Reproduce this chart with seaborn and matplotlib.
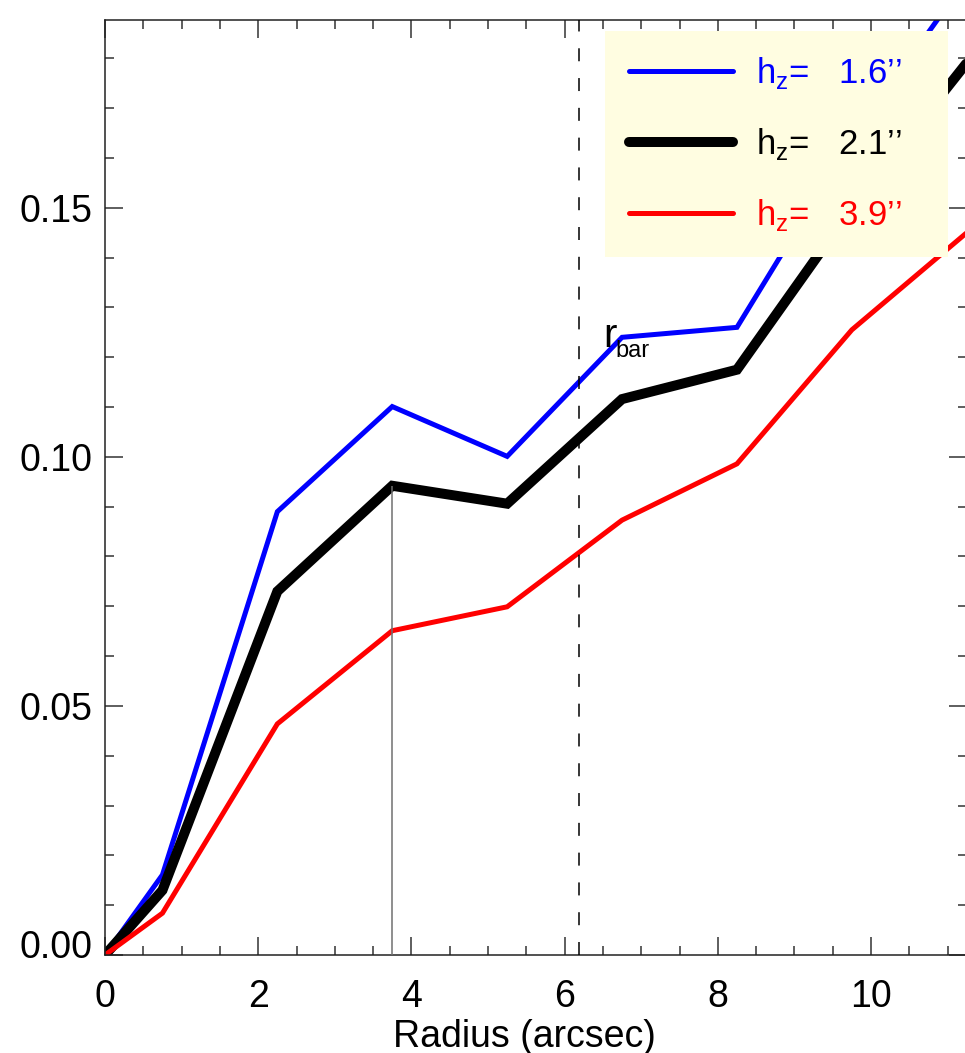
import matplotlib
matplotlib.use("Agg")
from matplotlib import pyplot as plt
from matplotlib.ticker import MultipleLocator, FormatStrFormatter
from matplotlib.transforms import ScaledTranslation
import seaborn as sns

# radial bins (arcsec) and the three scale-height curves
radius = [0.0, 0.75, 2.25, 3.75, 5.25, 6.75, 8.25, 9.75, 11.25]
hz_16 = [0.0, 0.0161, 0.0890, 0.1101, 0.1001, 0.1240, 0.1260, 0.1637, 0.1960]
hz_21 = [0.0, 0.0130, 0.0730, 0.0942, 0.0906, 0.1116, 0.1175, 0.1500, 0.1791]
hz_39 = [0.0, 0.0084, 0.0464, 0.0651, 0.0699, 0.0873, 0.0986, 0.1255, 0.1450]
labels = ["1.6", "2.1", "3.9"]
r_bar = 6.19
marker_r = 3.75

sns.set_style("ticks")
plt.rcParams["font.family"] = ["Liberation Sans", "DejaVu Sans"]
plt.rcParams["mathtext.fontset"] = "custom"
plt.rcParams["mathtext.rm"] = "Liberation Sans"
for key in ["text.color", "axes.labelcolor", "xtick.labelcolor", "ytick.labelcolor"]:
    plt.rcParams[key] = "black"

fig = plt.figure(figsize=(9.65, 10.53), dpi=100)
ax = fig.add_axes([105 / 965, 98 / 1053, 861.75 / 965, 935 / 1053])

series = [(hz_16, "blue", 3.6), (hz_21, "black", 7.2), (hz_39, "red", 3.6)]
for (vals, col, lw), lab in zip(series, labels):
    sns.lineplot(x=radius, y=vals, color=col, linewidth=lw, ax=ax,
                 label="h$_\\mathregular{z}$=   " + lab + "\u2019\u2019   ")
for ln in ax.get_lines():
    ln.set_solid_joinstyle("miter")

# marker lines
ax.vlines(marker_r, 0, hz_21[radius.index(marker_r)], color="#707070", lw=1.1, zorder=5)
ax.axvline(r_bar, color="black", lw=1.1, linestyle=(0, (8.5, 11)), zorder=5)
ax.text(6.5, 0.1221, "r", fontsize=29, ha="left", va="baseline")
ax.annotate("bar", xy=(6.5, 0.1221), xytext=(13, -10), textcoords="offset pixels",
            fontsize=17, ha="left", va="baseline")

ax.set_xlim(0, 11.25)
ax.set_ylim(0, 0.1877)
ax.xaxis.set_major_locator(MultipleLocator(2))
ax.xaxis.set_minor_locator(MultipleLocator(0.5))
ax.yaxis.set_major_locator(MultipleLocator(0.05))
ax.yaxis.set_minor_locator(MultipleLocator(0.01))
ax.yaxis.set_major_formatter(FormatStrFormatter("%.2f"))
ax.tick_params(which="both", direction="in", top=True, right=True,
               color="#333333", width=1.1)
ax.tick_params(which="major", length=13, labelsize=27)
ax.tick_params(which="minor", length=6.5)
ax.tick_params(axis="x", which="major", pad=17)
ax.tick_params(axis="y", which="major", pad=9)
for sp in ax.spines.values():
    sp.set_color("#222222")
    sp.set_linewidth(1.1)

ax.set_xlabel("Radius (arcsec)", fontsize=27)
ax.xaxis.set_label_coords(0.487, -0.068)

leg = ax.legend(loc="upper left", bbox_to_anchor=(605 / 965, 1 - 31 / 1053),
                bbox_transform=fig.transFigure, fontsize=25, frameon=True,
                facecolor="#FFFDE1", edgecolor="none", framealpha=1,
                fancybox=False, borderpad=0.7, borderaxespad=0,
                handlelength=3.0, handletextpad=0.65, labelspacing=1.0,
                labelcolor="linecolor")
leg.set_zorder(10)

# IDL lifts the bottom y label off the axis corner
fig.canvas.draw()
for tick in ax.yaxis.get_major_ticks():
    if abs(tick.get_loc()) < 1e-9:
        lab0 = tick.label1
        lab0.set_transform(lab0.get_transform() + ScaledTranslation(0, 0.11, fig.dpi_scale_trans))

plt.savefig("out.png", dpi=100)
